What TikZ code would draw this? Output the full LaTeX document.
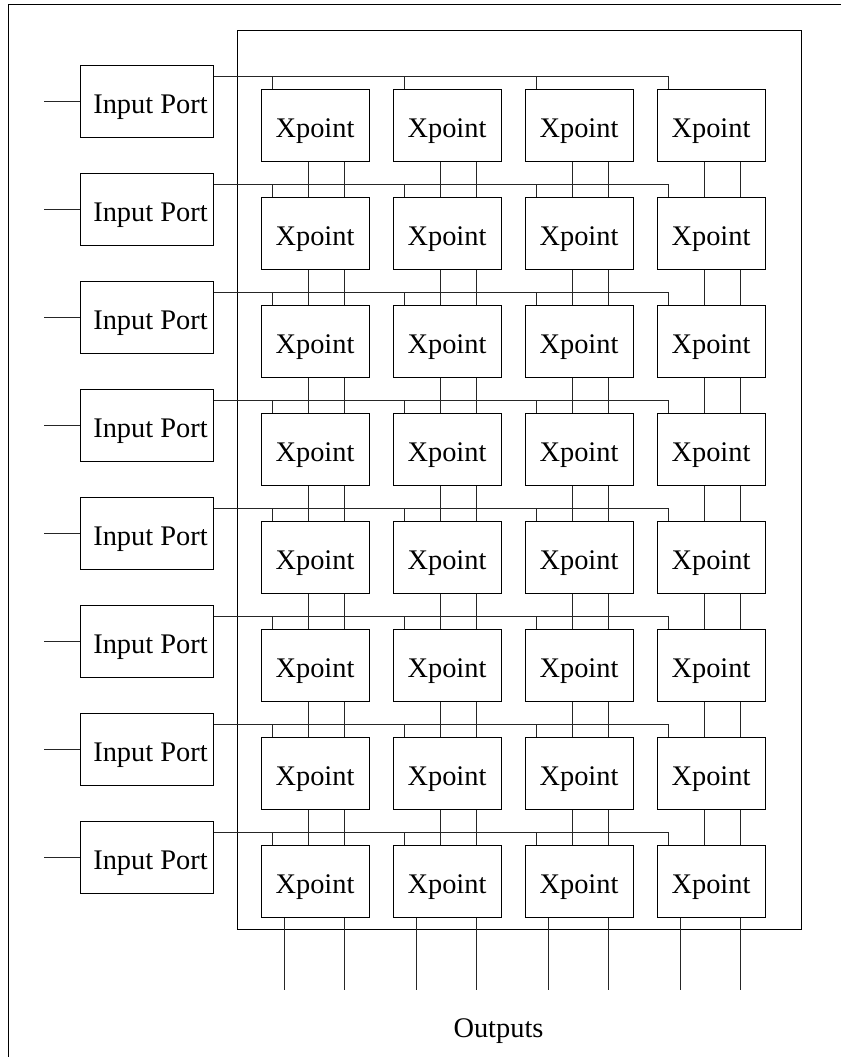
\documentclass[tikz,border=0pt]{standalone}
\usepackage{fontspec}
\setmainfont{Liberation Serif}
\usetikzlibrary{positioning,calc}

\begin{document}
\begin{tikzpicture}[
    x=0.5pt, y=-0.5pt,
    line width=0.5pt,
    port/.style={
      draw, minimum width=66.25pt, minimum height=36pt, inner sep=0pt,
      text height=12pt, text depth=0pt,
      font=\fontsize{14.2}{17}\selectfont,
    },
    xpoint/.style={
      draw, minimum width=54pt, minimum height=36pt, inner sep=0pt,
      text height=12pt, text depth=0pt,
      font=\fontsize{14.2}{17}\selectfont,
    },
    wire/.style={draw=black!85},
  ]
  \useasboundingbox (0,0) rectangle (841,1057);

  % =================== Frame ===================
  \draw (841,4.5) -| (8.5,1057);

  % Switch fabric
  \node[draw, anchor=north west, inner sep=0pt,
        minimum width=282.25pt, minimum height=449.75pt] (fabric) at (236.5,29.5) {};

  % =================== Ports and crosspoints ===================
  \foreach \i in {1,...,8} {
    \node[port] (in-\i) at (146.75, {101+108*(\i-1)}) {\hspace*{3.75pt}Input Port};
    \foreach \j in {1,...,4}
      \node[xpoint] (x-\i-\j) at ({315+132*(\j-1)}, {125+108*(\i-1)}) {Xpoint};
  }

  % Input lines and row buses
  \foreach \i in {1,...,8} {
    \draw[wire] (in-\i.west) -- ++(-36,0);
    \draw[wire] ([yshift=-6pt]in-\i.north east) -| ([xshift=6pt]x-\i-4.north west);
    \foreach \j in {1,2,3}
      \draw[wire] ([xshift=6pt,yshift=6pt]x-\i-\j.north west) -- ([xshift=6pt]x-\i-\j.north west);
  }

  % Column links between rows
  \foreach \i in {1,...,7} {
    \pgfmathtruncatemacro{\n}{\i+1}
    \foreach \j in {1,...,4} {
      \draw[wire] ([xshift=24pt]x-\i-\j.south west) -- ([xshift=24pt]x-\n-\j.north west);
      \draw[wire] ([xshift=42pt]x-\i-\j.south west) -- ([xshift=42pt]x-\n-\j.north west);
    }
  }

  % =================== Outputs ===================
  \foreach \j in {1,...,4} {
    \draw[wire] ([xshift=12pt]x-8-\j.south west) -- ++(0,72);
    \draw[wire] ([xshift=42pt]x-8-\j.south west) -- ++(0,72);
  }
  \node[font=\fontsize{14.2}{17}\selectfont] (outputs) at (498.5,1031) {Outputs};

\end{tikzpicture}
\end{document}
